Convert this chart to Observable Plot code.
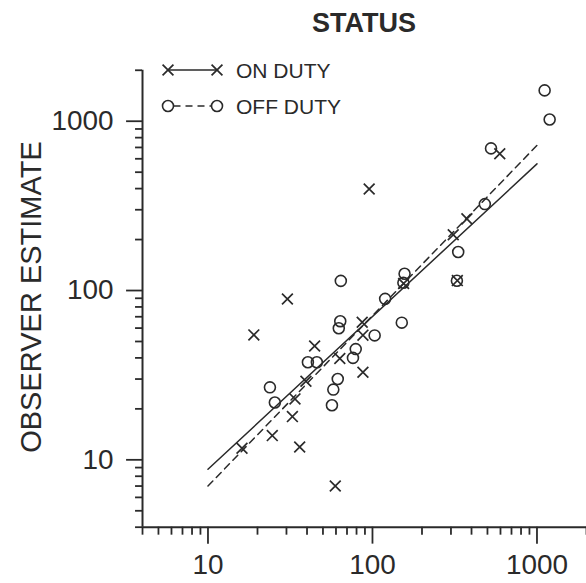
<!DOCTYPE html>
<html><head><meta charset="utf-8">
<script src="https://cdn.jsdelivr.net/npm/d3@7"></script>
<script src="https://cdn.jsdelivr.net/npm/@observablehq/plot@0.6"></script>
<style>
html,body{margin:0;padding:0;background:#fff;overflow:hidden;}
#wrap{position:relative;width:586px;height:583px;overflow:hidden;background:#fff;}
#overlay{position:absolute;left:0;top:0;pointer-events:none;}
</style></head><body>
<div id="wrap"><div id="chart"></div><svg id="overlay" width="586" height="583"></svg></div>
<script>
// ON DUTY (x markers)
const onX = [16.1, 19.0, 24.6, 30.4, 32.6, 33.8, 36.1, 39.4, 44.5, 59.4, 63.3, 86.6, 87.5, 87.5, 95.5, 154.6, 309.7, 375, 328, 594];
const onY = [11.7, 54.7, 13.9, 89.1, 18.0, 22.9, 11.9, 29.1, 47.0, 7.0, 39.7, 64.9, 54.5, 32.9, 398, 110, 213.5, 265, 114.5, 642];
// OFF DUTY (o markers)
const offX = [23.8, 25.5, 40.5, 45.9, 56.7, 57.8, 61.5, 63.7, 62.4, 64.2, 76.1, 79.1, 103.1, 119.4, 150.7, 156.7, 154.1, 326, 332, 482, 525.6, 1113, 1194];
const offY = [26.8, 21.8, 37.7, 37.7, 21.0, 26.0, 30.0, 65.9, 59.9, 114, 40.0, 45.1, 54.3, 89.3, 64.6, 125.6, 111.1, 114.2, 169, 324, 691, 1521, 1023];
// fitted lines (log-log regressions)
const fitX = [10, 1000];
const onFitY = [8.8, 560];
const offFitY = [7.0, 720];
// ticks
const majorTicks = [10, 100, 1000];
const minorTicks = [4,5,6,7,8,9,20,30,40,50,60,70,80,90,200,300,400,500,600,700,800,900,2000];
const titleText = "STATUS";
const yLabel = "OBSERVER ESTIMATE";
const seriesNames = ["ON DUTY", "OFF DUTY"];

const ink = "#2a2a2a";
const onData = onX.map((x, i) => ({x, y: onY[i]}));
const offData = offX.map((x, i) => ({x, y: offY[i]}));
const onFit = fitX.map((x, i) => ({x, y: onFitY[i]}));
const offFit = fitX.map((x, i) => ({x, y: offFitY[i]}));

const chart = Plot.plot({
  width: 588,
  height: 583,
  marginLeft: 142.5,
  marginRight: 0,
  marginTop: 70,
  marginBottom: 54.5,
  style: {fontFamily: "'Liberation Sans', Arial, sans-serif", color: ink, background: "white", overflow: "visible"},
  x: {type: "log", domain: [4, 2000], label: null},
  y: {type: "log", domain: [4, 2000], label: null},
  marks: [
    Plot.axisY({ticks: minorTicks, tickSize: 7, tickFormat: () => "", strokeWidth: 1.8, label: null}),
    Plot.axisY({ticks: majorTicks, tickSize: 16, tickPadding: 13, fontSize: 28, tickFormat: d => String(d), strokeWidth: 1.8, label: null}),
    Plot.axisX({ticks: minorTicks, tickSize: 8, tickFormat: () => "", strokeWidth: 1.8, label: null}),
    Plot.axisX({ticks: majorTicks, tickSize: 17, tickPadding: 10, fontSize: 28, tickFormat: d => String(d), strokeWidth: 1.8, label: null}),
    Plot.ruleX([4], {stroke: ink, strokeWidth: 2}),
    Plot.ruleY([4], {stroke: ink, strokeWidth: 2}),
    Plot.line(onFit, {x: "x", y: "y", stroke: ink, strokeWidth: 1.5}),
    Plot.line(offFit, {x: "x", y: "y", stroke: ink, strokeWidth: 1.5, strokeDasharray: "7,5"}),
    Plot.dot(onData, {x: "x", y: "y", symbol: "times", r: 5, stroke: ink, strokeWidth: 1.7}),
    Plot.dot(offData, {x: "x", y: "y", symbol: "circle", r: 5.5, fill: "none", stroke: ink, strokeWidth: 1.6})
  ]
});
document.getElementById("chart").append(chart);

// overlay: title, y label, legend
const ov = d3.select("#overlay");
const font = "'Liberation Sans', Arial, sans-serif";
ov.append("text").attr("x", 364).attr("y", 22).attr("dy", "0.36em")
  .attr("text-anchor", "middle").attr("font-family", font).attr("font-weight", "bold")
  .attr("font-size", 27).attr("fill", ink).text(titleText);
ov.append("text").attr("transform", "translate(31,297) rotate(-90)").attr("dy", "0.36em")
  .attr("text-anchor", "middle").attr("font-family", font)
  .attr("font-size", 29).attr("fill", ink).text(yLabel);

const rows = [70, 106];
const x1 = 168, x2 = 217, tx = 236;
// row 1: x markers with solid line
ov.append("line").attr("x1", x1).attr("x2", x2).attr("y1", rows[0]).attr("y2", rows[0])
  .attr("stroke", ink).attr("stroke-width", 1.5);
[x1, x2].forEach(cx => ov.append("path")
  .attr("d", d3.symbol(d3.symbolTimes, Math.PI * 25)())
  .attr("transform", `translate(${cx},${rows[0]})`)
  .attr("fill", "none").attr("stroke", ink).attr("stroke-width", 1.7));
// row 2: circles with dashed line
ov.append("line").attr("x1", x1 + 5.5).attr("x2", x2 - 5.5).attr("y1", rows[1]).attr("y2", rows[1])
  .attr("stroke", ink).attr("stroke-width", 1.5).attr("stroke-dasharray", "7,5");
[x1, x2].forEach(cx => ov.append("circle").attr("cx", cx).attr("cy", rows[1]).attr("r", 5.5)
  .attr("fill", "white").attr("stroke", ink).attr("stroke-width", 1.6));
seriesNames.forEach((s, i) => ov.append("text").attr("x", tx).attr("y", rows[i]).attr("dy", "0.36em")
  .attr("font-family", font).attr("font-size", 21).attr("fill", ink).text(s));
</script>
</body></html>
